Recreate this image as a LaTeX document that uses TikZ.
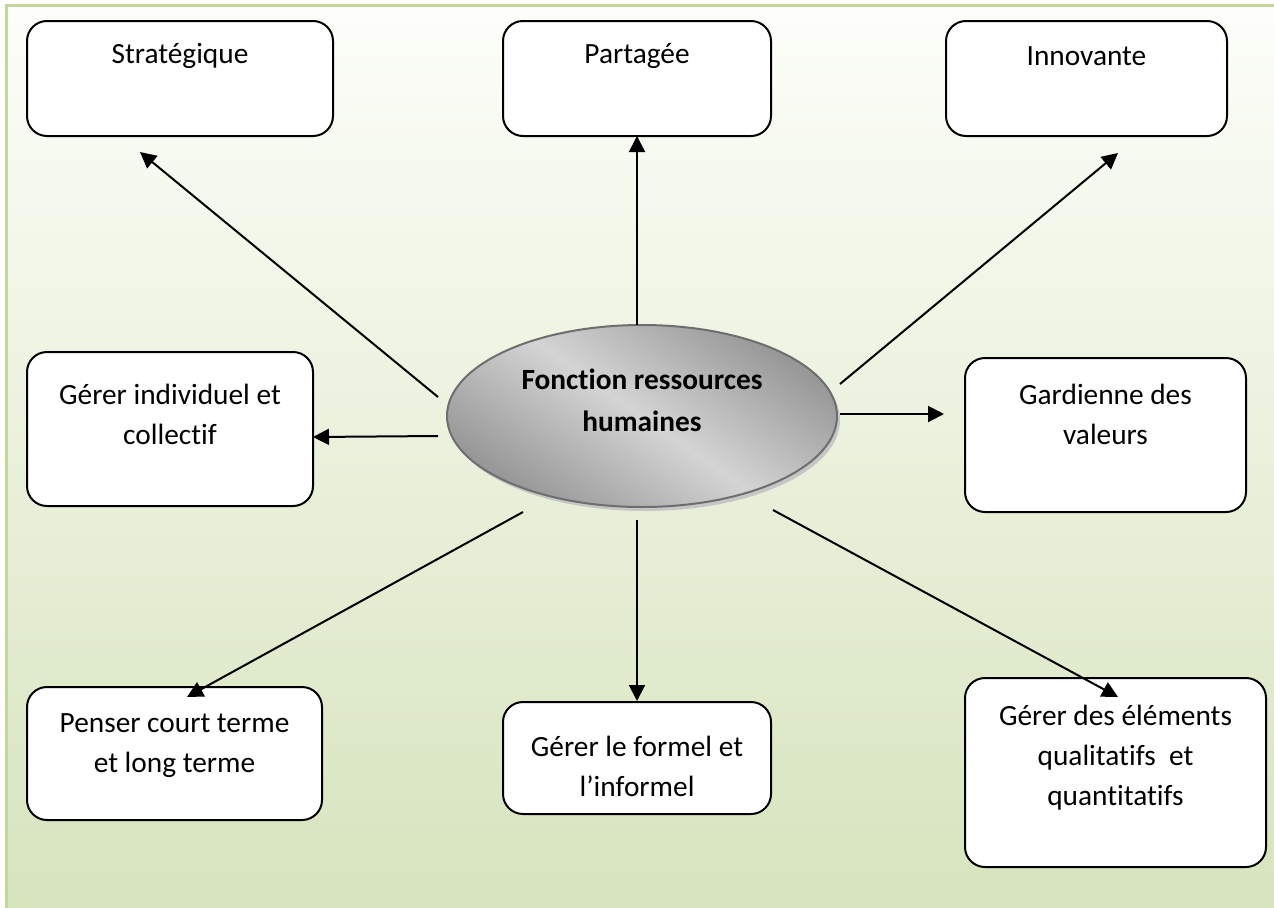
\documentclass[tikz,border=0pt]{standalone}
\usepackage{fontspec}
\setmainfont{Carlito}[Ligatures=NoCommon]
\usetikzlibrary{arrows.meta,shadows,shapes.geometric}

\definecolor{bgtop}{HTML}{FDFEFA}
\definecolor{bgbot}{HTML}{D6E3BC}
\definecolor{framegreen}{HTML}{C3D69B}
\definecolor{ovaldark}{HTML}{969696}
\definecolor{ovallight}{HTML}{D4D4D4}
\definecolor{ovalline}{HTML}{6E6E6E}

\tikzset{
  roundbox/.style={draw=black, line width=1.5pt, fill=white, rounded corners=15pt,
                   inner sep=0pt},
  lbl/.style={align=center, inner sep=0pt, font=\fontsize{22}{30}\selectfont},
  hub/.style={ellipse, draw=ovalline, line width=1.5pt, inner sep=0pt,
              minimum width=292.5pt, minimum height=136.5pt,
              top color=ovaldark, bottom color=ovaldark, middle color=ovallight,
              shading angle=-35,
              drop shadow={shadow xshift=2.25pt, shadow yshift=-3pt, fill=gray!45, opacity=1}},
  link/.style={line width=1.5pt, -{Triangle[length=12pt,width=12pt]}}
}

\begin{document}
\begin{tikzpicture}[x=0.75pt,y=-0.75pt]
  \clip (0,0) rectangle (1274,907);
  % page background with its frame
  \fill[white] (0,0) rectangle (1274,907);
  \draw[framegreen, line width=2.25pt, top color=bgtop, bottom color=bgbot]
    (6.5,5) rectangle (1290,925);

  % outer boxes
  \node[roundbox, minimum width=229.5pt, minimum height=86.25pt] (strat) at (180,78.5) {};
  \node[roundbox, minimum width=201pt,   minimum height=86.25pt] (part)  at (637,78.5) {};
  \node[roundbox, minimum width=210.75pt,minimum height=86.25pt] (innov) at (1086.5,78.5) {};
  \node[roundbox, minimum width=214.5pt, minimum height=115.5pt] (indiv) at (170,429) {};
  \node[roundbox, minimum width=210.75pt,minimum height=115.5pt] (gard)  at (1105.5,435) {};
  \node[roundbox, minimum width=221.25pt,minimum height=99.75pt] (pens)  at (174.5,753.5) {};
  \node[roundbox, minimum width=201pt,   minimum height=84pt]    (form)  at (637,758) {};
  \node[roundbox, minimum width=225.75pt,minimum height=141.75pt](qual)  at (1115.5,772.5) {};

  % box captions
  \node[lbl] (stratT) at (180,56)    {Stratégique};
  \node[lbl] (partT)  at (637,56)    {Partagée};
  \node[lbl] (innovT) at (1086.5,56) {Innovante};
  \node[lbl] (indivT) at (170,414)   {Gérer individuel et\\collectif};
  \node[lbl] (gardT)  at (1105.5,414){Gardienne des\\valeurs};
  \node[lbl] (pensT)  at (174.5,746) {Penser court terme\\et long terme};
  \node[lbl] (formT)  at (637,766)   {Gérer le formel et\\l’informel};
  \node[lbl] (qualT)  at (1115.5,758){Gérer des éléments\\qualitatifs\ \ et\\quantitatifs};

  % central oval
  \node[hub] (rh) at (642,416) {};
  \node[lbl, font=\fontsize{22}{31.5}\selectfont\bfseries] (rhT) at (642,400)
    {Fonction ressources\\humaines};

  % connector end points
  \coordinate (sA) at (438,397);   \coordinate (sB) at (140,152);
  \coordinate (pA) at (637,325);   \coordinate (pB) at (637,136);
  \coordinate (iA) at (840,384);   \coordinate (iB) at (1118,153);
  \coordinate (gA) at (840,414);   \coordinate (gB) at (944,414);
  \coordinate (cA) at (438,436);   \coordinate (cB) at (313,437);
  \coordinate (tA) at (523,512);   \coordinate (tB) at (187,697);
  \coordinate (fA) at (637,520);   \coordinate (fB) at (637,701);
  \coordinate (qA) at (773,510);   \coordinate (qB) at (1118,697);

  \draw[link] (sA) -- (sB);
  \draw[link] (pA) -- (pB);
  \draw[link] (iA) -- (iB);
  \draw[link] (gA) -- (gB);
  \draw[link] (cA) -- (cB);
  \draw[link] (tA) -- (tB);
  \draw[link] (fA) -- (fB);
  \draw[link] (qA) -- (qB);
\end{tikzpicture}
\end{document}
